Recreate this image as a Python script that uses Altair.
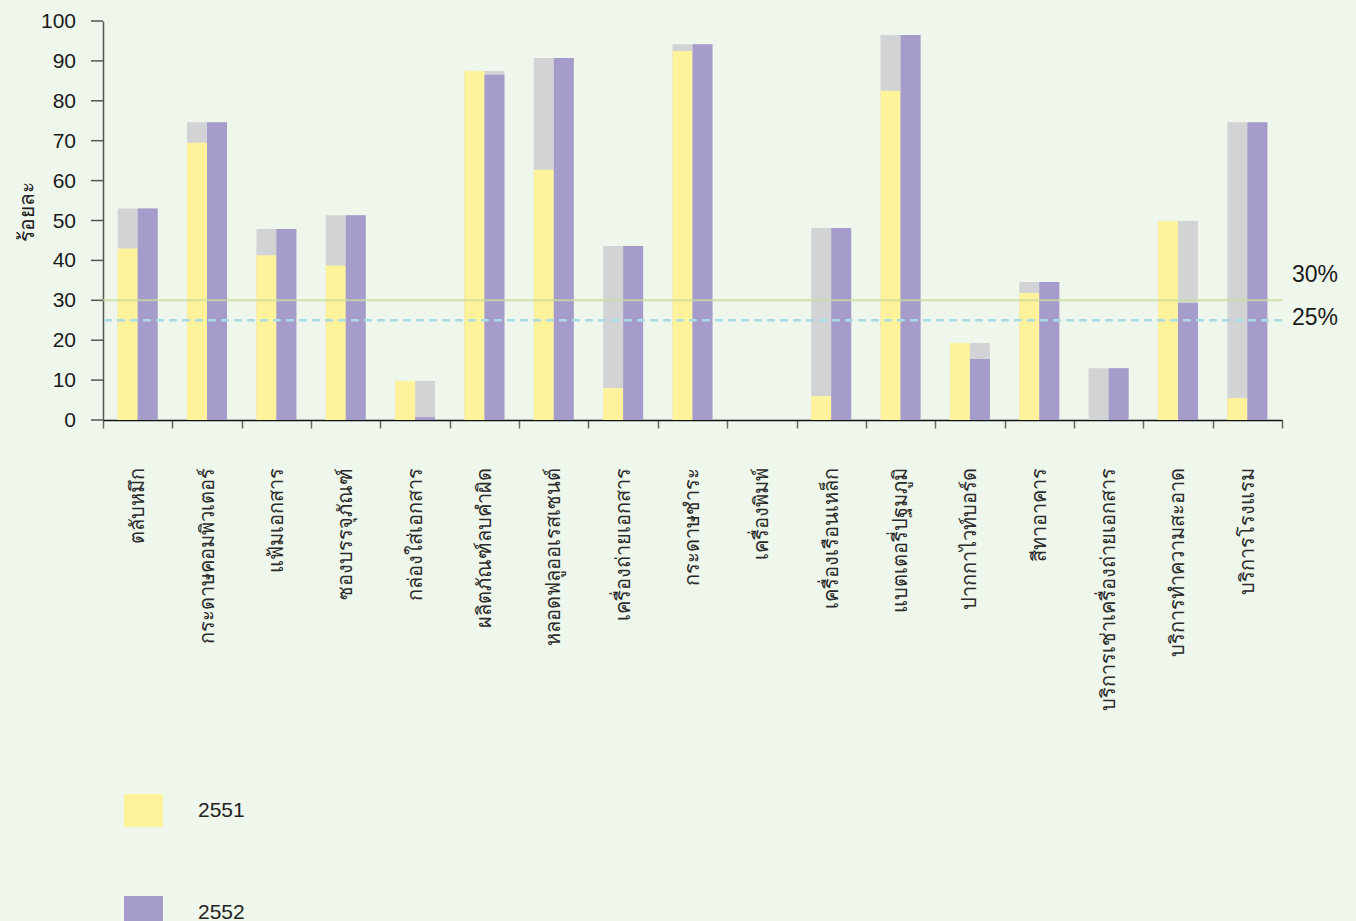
import altair as alt
import pandas as pd

categories = [
    "ตลับหมึก", "กระดาษคอมพิวเตอร์", "แฟ้มเอกสาร", "ซองบรรจุภัณฑ์",
    "กล่องใส่เอกสาร", "ผลิตภัณฑ์ลบคำผิด", "หลอดฟลูออเรสเซนต์",
    "เครื่องถ่ายเอกสาร", "กระดาษชำระ", "เครื่องพิมพ์", "เครื่องเรือนเหล็ก",
    "แบตเตอรี่ปฐมภูมิ", "ปากกาไวท์บอร์ด", "สีทาอาคาร",
    "บริการเช่าเครื่องถ่ายเอกสาร", "บริการทำความสะอาด", "บริการโรงแรม",
]
series = ["2551", "2552"]
v2551 = [43.0, 69.5, 41.3, 38.7, 9.8, 87.5, 62.7, 8.0, 92.5, 0, 6.0, 82.5, 19.3, 31.8, 0, 49.9, 5.5]
v2552 = [53.0, 74.6, 47.9, 51.3, 0.7, 86.5, 90.7, 43.6, 94.2, 0, 48.1, 96.5, 15.3, 34.6, 13.0, 29.3, 74.6]
y_ticks = [0, 10, 20, 30, 40, 50, 60, 70, 80, 90, 100]
thresholds = [30, 25]
threshold_labels = ["30%", "25%"]

rows = []
for i, c in enumerate(categories):
    rows.append({"category": c, "series": series[0], "value": v2551[i]})
    rows.append({"category": c, "series": series[1], "value": v2552[i]})
df = pd.DataFrame(rows)
tick_df = pd.DataFrame({"t": y_ticks, "lab": [str(v) for v in y_ticks]})

FONT = "Liberation Sans"
YELLOW = "#fef29b"
PURPLE = "#a69ccb"
GRAY = "#d2d3d5"

x_enc = alt.X(
    "category:N",
    sort=categories,
    scale=alt.Scale(paddingInner=0, paddingOuter=0),
    axis=alt.Axis(
        title=None, labelAngle=-90, labelFontSize=20, labelColor="#2a2a2a",
        labelPadding=39, labelLimit=500, tickBand="extent", tickSize=8,
        tickColor="#666666", tickWidth=1.5, domainColor="#111111",
        domainWidth=1.5, labelFont=FONT, grid=False,
    ),
)
xoff = alt.XOffset("series:N", sort=series, scale=alt.Scale(paddingInner=0, paddingOuter=0.735))

y_axis = alt.Axis(
    title="ร้อยละ", titleFontSize=21, titleFontWeight="normal",
    titleColor="#222222", titleFont=FONT, titleX=-70, titleY=190,
    titleBaseline="alphabetic", titleAngle=270, titleAlign="center",
    labels=False, ticks=False,
    domainColor="#555555", domainWidth=1.5, grid=False,
)
y_scale = alt.Scale(domain=[0, 100], nice=False)


def yenc(field):
    return alt.Y(field, scale=y_scale, axis=y_axis, title="ร้อยละ")


base = alt.Chart(df)

gray = base.transform_joinaggregate(
    maxv="max(value)", groupby=["category"]
).mark_bar(color=GRAY).encode(
    x=x_enc, xOffset=xoff, y=yenc("maxv:Q"),
)

bars = base.mark_bar().encode(
    x=x_enc,
    xOffset=xoff,
    y=yenc("value:Q"),
    color=alt.Color(
        "series:N",
        scale=alt.Scale(domain=series, range=[YELLOW, PURPLE]),
        legend=alt.Legend(
            title=None, orient="none", legendX=24, legendY=773, direction="vertical",
            symbolType="M-1.18,-1H1.18V1H-1.18Z", symbolSize=1089,
            symbolStrokeWidth=0, symbolOpacity=1, labelFontSize=21,
            labelFont=FONT, labelColor="#222222", labelOffset=38,
            rowPadding=69, padding=0,
        ),
    ),
)

ytick_marks = alt.Chart(tick_df).mark_rule(color="#555555", strokeWidth=1.5).encode(
    x=alt.value(-12), x2=alt.value(0), y=yenc("t:Q"))
ytick_labels = alt.Chart(tick_df).mark_text(
    align="right", baseline="middle", fontSize=21, font=FONT, color="#1a1a1a", dy=1
).encode(x=alt.value(-27), y=yenc("t:Q"), text="lab:N")

tdf30 = pd.DataFrame({"y": [thresholds[0]], "t": [threshold_labels[0]]})
tdf25 = pd.DataFrame({"y": [thresholds[1]], "t": [threshold_labels[1]]})

rule30 = alt.Chart(tdf30).mark_rule(color="#c8dc9c", strokeWidth=2, opacity=0.8).encode(y=yenc("y:Q"))
rule25 = alt.Chart(tdf25).mark_rule(color="#a9dbe6", strokeWidth=2.5, strokeDash=[8, 5]).encode(y=yenc("y:Q"))

text30 = alt.Chart(tdf30).mark_text(
    align="left", baseline="middle", fontSize=23, font=FONT, color="#1a1a1a", dy=-25
).encode(x=alt.value(1189), y=yenc("y:Q"), text="t:N")
text25 = alt.Chart(tdf25).mark_text(
    align="left", baseline="middle", fontSize=23, font=FONT, color="#1a1a1a", dy=-2
).encode(x=alt.value(1189), y=yenc("y:Q"), text="t:N")

chart = alt.layer(gray, bars, rule30, rule25, text30, text25, ytick_marks, ytick_labels).properties(
    width=1179,
    height=399,
    autosize=alt.AutoSizeParams(type="none"),
    padding={"left": 103, "top": 21, "right": 74, "bottom": 501},
    background="#eff7ec",
).configure_view(stroke=None)

chart.save("out.html", embed_options={"renderer": "svg", "actions": False})
